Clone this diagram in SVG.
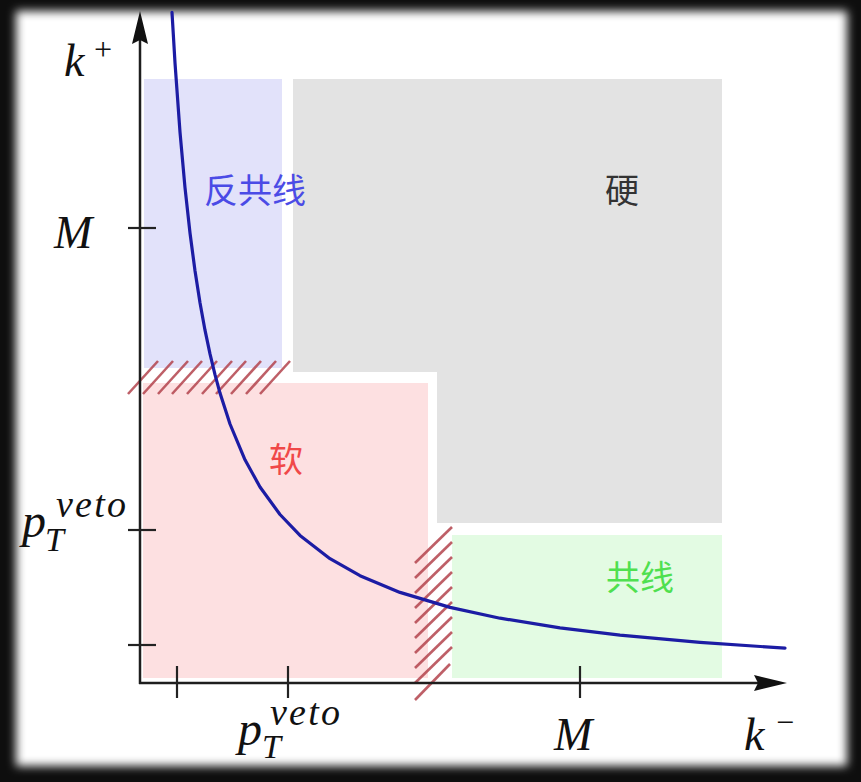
<svg xmlns="http://www.w3.org/2000/svg" width="861" height="782" viewBox="0 0 861 782">
<defs>
<filter id="blur" x="-5%" y="-5%" width="110%" height="110%"><feGaussianBlur stdDeviation="5"/></filter>
<style>
.axis{stroke:#1e1e1e;stroke-width:2.5;fill:none}
.tick{stroke:#222;stroke-width:2.2}
.hatch{stroke:#b3434c;stroke-width:2.6;stroke-opacity:0.85}
.math{font-family:"Liberation Serif","DejaVu Serif",serif;font-style:italic;fill:#111}
.cjk{font-family:"Noto Sans CJK SC","Noto Sans CJK TC",sans-serif;font-size:34px}
</style>
</defs>
<rect x="0" y="0" width="861" height="782" fill="#0e0e0e"/>
<rect x="16" y="11" width="831" height="755" fill="#ffffff" filter="url(#blur)"/>
<g id="region-anticollinear"><rect x="144" y="79" width="138" height="289" fill="#e2e2fa"/></g>
<g id="region-hard"><polygon points="293,79 722,79 722,523 437,523 437,372 293,372" fill="#e3e3e3"/></g>
<g id="region-soft"><rect x="143" y="383" width="285" height="295" fill="#fde0e1"/></g>
<g id="region-collinear"><rect x="452" y="535" width="270" height="143" fill="#e3fbe3"/></g>
<g id="hatch-horizontal" class="hatch">
<line x1="128" y1="394" x2="158" y2="361"/>
<line x1="143" y1="394" x2="173" y2="361"/>
<line x1="158" y1="394" x2="188" y2="361"/>
<line x1="172" y1="394" x2="202" y2="361"/>
<line x1="187" y1="394" x2="217" y2="361"/>
<line x1="202" y1="394" x2="232" y2="361"/>
<line x1="216" y1="394" x2="246" y2="361"/>
<line x1="231" y1="394" x2="261" y2="361"/>
<line x1="246" y1="394" x2="276" y2="361"/>
<line x1="260" y1="394" x2="290" y2="361"/>
</g>
<g id="hatch-vertical" class="hatch">
<line x1="415" y1="563" x2="452" y2="527"/>
<line x1="415" y1="578" x2="452" y2="542"/>
<line x1="415" y1="593" x2="452" y2="557"/>
<line x1="415" y1="608" x2="452" y2="572"/>
<line x1="415" y1="623" x2="452" y2="587"/>
<line x1="415" y1="638" x2="452" y2="602"/>
<line x1="415" y1="653" x2="452" y2="617"/>
<line x1="415" y1="668" x2="452" y2="632"/>
<line x1="415" y1="683" x2="452" y2="647"/>
<line x1="415" y1="700" x2="450" y2="664"/>
</g>
<g id="axes">
<line class="axis" x1="140" y1="684" x2="140" y2="40"/>
<line class="axis" x1="139" y1="683" x2="758" y2="683"/>
<polygon points="140,11 148,44 140,40 132,44" fill="#111"/>
<polygon points="787,683 754,691 758,683 754,675" fill="#111"/>
<line class="tick" x1="128" y1="228" x2="156" y2="228"/>
<line class="tick" x1="128" y1="530" x2="156" y2="530"/>
<line class="tick" x1="128" y1="645" x2="156" y2="645"/>
<line class="tick" x1="177" y1="666" x2="177" y2="698"/>
<line class="tick" x1="288" y1="666" x2="288" y2="698"/>
<line class="tick" x1="580" y1="666" x2="580" y2="698"/>
</g>
<g id="curve"><polyline fill="none" stroke="#1c1ca4" stroke-width="3.2" stroke-linejoin="round" stroke-linecap="round" points="172,12.3 175,62.9 180,132.2 185,187.6 190,233 195,270.8 200,302.8 205,330.2 210,353.9 215,374.7 220,393.1 230,424 245,459.8 260,487 280,514.5 300,535.4 330,558.7 360,575.7 400,592.4 450,607.4 500,618.2 560,627.9 620,635.2 700,642.4 785,648.2"/></g>
<g id="labels">
<text class="cjk" x="255" y="203" text-anchor="middle" fill="#4b4be6">反共线</text>
<text class="cjk" x="622" y="203" text-anchor="middle" fill="#333">硬</text>
<text class="cjk" x="286" y="472" text-anchor="middle" fill="#f04848">软</text>
<text class="cjk" x="640" y="590" text-anchor="middle" fill="#4fe04f">共线</text>
<text class="math" x="64" y="76" font-size="46">k</text>
<text class="math" x="92" y="60" font-size="32" font-style="normal">+</text>
<text class="math" x="54" y="248" font-size="46">M</text>
<text class="math" x="22" y="537" font-size="48">p</text>
<text class="math" x="56" y="517" font-size="38" textLength="70">veto</text>
<text class="math" x="45" y="551" font-size="34">T</text>
<text class="math" x="238" y="745" font-size="48">p</text>
<text class="math" x="270" y="725" font-size="38" textLength="70">veto</text>
<text class="math" x="262" y="758" font-size="34">T</text>
<text class="math" x="554" y="750" font-size="46">M</text>
<text class="math" x="744" y="750" font-size="46">k</text>
<text class="math" x="774" y="733" font-size="32" font-style="normal">−</text>
</g>
</svg>
